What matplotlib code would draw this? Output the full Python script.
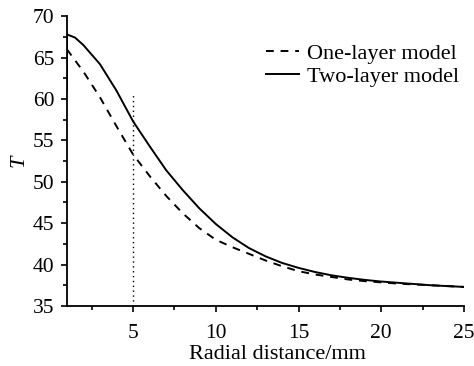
import matplotlib
matplotlib.use("Agg")
import matplotlib.pyplot as plt
from matplotlib.ticker import MultipleLocator

plt.rcParams['font.family'] = ['Liberation Serif', 'DejaVu Serif']

radius = [1, 2, 3, 4, 5, 6, 7, 8, 9, 10, 11, 12, 13, 14, 15, 16, 17, 18, 19, 20, 21, 22, 23, 24, 25]
one_layer = [66.0, 63.3, 60.2, 56.7, 53.3, 50.7, 48.3, 46.2, 44.4, 43.0, 42.1, 41.3, 40.5, 39.8, 39.2,
             38.8, 38.5, 38.2, 38.0, 37.85, 37.7, 37.6, 37.5, 37.4, 37.3]
two_radius = [1, 1, 1.5, 2, 3, 4, 5, 6, 7, 8, 9, 10, 11, 12, 13, 14, 15, 16, 17, 18, 19, 20, 21, 22, 23, 24, 25]
two_layer = [61.0, 67.8, 67.4, 66.5, 64.2, 61.0, 57.3, 54.3, 51.4, 49.0, 46.8, 44.9, 43.3, 42.0, 41.0,
             40.2, 39.6, 39.1, 38.7, 38.4, 38.15, 37.95, 37.8, 37.65, 37.5, 37.4, 37.3]
marker_x = 5
marker_top = 60.5

fig = plt.figure(figsize=(4.74, 3.66), dpi=100)
ax = fig.add_axes([0.141, 0.164, 0.838, 0.792])

ax.plot(radius, one_layer, color='black', linestyle=(0, (4, 3.5)), linewidth=1.4, label='One-layer model')
ax.plot(two_radius, two_layer, color='black', linestyle='-', linewidth=1.4, label='Two-layer model')
ax.plot([marker_x, marker_x], [35, marker_top], color='black', linestyle=(0, (1, 2.5)), linewidth=1.0)

ax.set_xlim(1, 25)
ax.set_ylim(35, 70)
ax.xaxis.set_major_locator(MultipleLocator(5))
ax.xaxis.set_minor_locator(MultipleLocator(2.5))
ax.yaxis.set_major_locator(MultipleLocator(5))
ax.yaxis.set_minor_locator(MultipleLocator(2.5))
ax.set_xticks([5, 10, 15, 20, 25])
ax.spines['top'].set_visible(False)
ax.spines['right'].set_visible(False)
for s in ['left', 'bottom']:
    ax.spines[s].set_linewidth(1.3)
ax.tick_params(which='major', direction='out', length=4, width=1.2, labelsize=15.5)
ax.tick_params(axis='x', which='major', pad=9)
ax.tick_params(axis='y', which='major', pad=5)
ax.tick_params(which='minor', direction='out', length=3, width=1.2)

ax.set_xlabel('Radial distance/mm', fontsize=16, labelpad=1)
ax.xaxis.set_label_coords(0.53, -0.135)
ax.set_ylabel('T', fontsize=16, style='italic', labelpad=3)

ax.legend(loc='center right', frameon=False, fontsize=16, handlelength=1.45, handletextpad=0.4,
          bbox_to_anchor=(1.0, 0.83), labelspacing=0.1, borderaxespad=0, borderpad=0.2)

fig.savefig('out.png', dpi=100)
